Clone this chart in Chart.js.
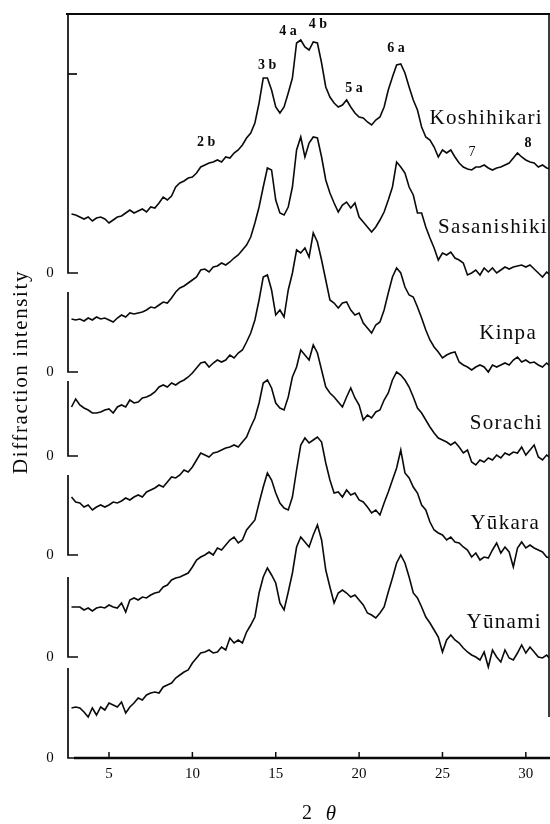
<!DOCTYPE html>
<html>
<head>
<meta charset="utf-8">
<script src="https://cdn.jsdelivr.net/npm/chart.js@4.4.0/dist/chart.umd.min.js"></script>
<style>
	body { margin: 0; background: #fff; }
	#wrap { position: relative; width: 550px; height: 824px; }
</style>
</head>
<body>
<div id="wrap"><canvas id="xrd"></canvas></div>
<script>
// 2θ sample positions (deg)
const twoTheta = [2.75,
	3, 3.25, 3.5, 3.75, 4, 4.25, 4.5, 4.75, 5, 5.25, 5.5, 5.75, 6, 6.25, 6.5, 6.75,
	7, 7.25, 7.5, 7.75, 8, 8.25, 8.5, 8.75, 9, 9.25, 9.5, 9.75, 10, 10.25, 10.5, 10.75,
	11, 11.25, 11.5, 11.75, 12, 12.25, 12.5, 12.75, 13, 13.25, 13.5, 13.75, 14, 14.25, 14.5, 14.75,
	15, 15.25, 15.5, 15.75, 16, 16.25, 16.5, 16.75, 17, 17.25, 17.5, 17.75, 18, 18.25, 18.5, 18.75,
	19, 19.25, 19.5, 19.75, 20, 20.25, 20.5, 20.75, 21, 21.25, 21.5, 21.75, 22, 22.25, 22.5, 22.75,
	23, 23.25, 23.5, 23.75, 24, 24.25, 24.5, 24.75, 25, 25.25, 25.5, 25.75, 26, 26.25, 26.5, 26.75,
	27, 27.25, 27.5, 27.75, 28, 28.25, 28.5, 28.75, 29, 29.25, 29.5, 29.75, 30, 30.25, 30.5, 30.75,
	31, 31.25, 31.5]

const varieties = ["Koshihikari", "Sasanishiki", "Kinpa", "Sorachi", "Yūkara", "Yūnami"]

// intensity above each trace's own zero line
const koshihikari = [59,
	58, 56, 54, 56, 52, 55, 56, 54, 50, 53, 56, 57, 60, 63, 60, 62,
	64, 61, 66, 65, 70, 76, 73, 77, 86, 90, 92, 95, 96, 100, 106, 108,
	110, 111, 113, 111, 116, 115, 120, 123, 128, 135, 140, 150, 170, 195, 195, 183,
	166, 160, 166, 180, 195, 230, 233, 226, 223, 231, 230, 210, 186, 176, 170, 166,
	168, 173, 166, 160, 156, 155, 151, 148, 153, 156, 166, 183, 196, 208, 209, 200,
	186, 173, 163, 146, 136, 133, 126, 116, 123, 120, 123, 116, 110, 106, 104, 103,
	106, 106, 108, 105, 103, 105, 106, 108, 110, 115, 120, 116, 113, 111, 110, 106,
	108, 105, 104]
const sasanishiki = [53,
	52, 53, 51, 54, 52, 55, 53, 54, 52, 50, 54, 57, 55, 59, 58, 59,
	60, 62, 65, 64, 67, 70, 69, 74, 80, 84, 86, 89, 92, 95, 102, 103,
	100, 105, 106, 109, 107, 110, 114, 117, 122, 127, 135, 149, 165, 185, 204, 202,
	172, 159, 157, 165, 185, 222, 235, 215, 229, 235, 234, 215, 192, 179, 169, 160,
	167, 170, 164, 169, 155, 150, 145, 140, 145, 152, 160, 172, 185, 210, 205, 199,
	185, 177, 159, 159, 145, 134, 124, 112, 119, 117, 120, 114, 112, 109, 97, 99,
	102, 97, 104, 100, 104, 99, 102, 105, 103, 105, 106, 107, 105, 107, 103, 99,
	95, 100, 97]
const kinpa = [49,
	57, 51, 48, 46, 43, 43, 44, 46, 47, 43, 49, 51, 49, 56, 53, 54,
	58, 59, 61, 64, 69, 71, 69, 73, 71, 74, 76, 79, 83, 88, 93, 94,
	89, 93, 96, 94, 96, 101, 98, 103, 106, 114, 123, 136, 156, 179, 181, 166,
	141, 146, 139, 166, 183, 206, 203, 208, 199, 223, 214, 196, 176, 156, 153, 148,
	153, 154, 146, 141, 143, 133, 128, 123, 131, 134, 146, 163, 179, 188, 183, 169,
	161, 159, 149, 138, 126, 116, 109, 104, 98, 101, 103, 104, 94, 91, 89, 86,
	89, 91, 89, 84, 91, 89, 91, 93, 91, 96, 99, 94, 96, 93, 94, 91,
	89, 93, 89]
const sorachi = [58,
	53, 52, 48, 50, 45, 48, 50, 48, 50, 53, 52, 54, 57, 55, 58, 60,
	58, 63, 65, 67, 70, 68, 73, 78, 77, 80, 85, 83, 88, 95, 102, 100,
	98, 102, 103, 105, 107, 108, 110, 108, 113, 118, 128, 137, 152, 172, 175, 167,
	152, 147, 145, 158, 178, 188, 205, 200, 195, 210, 202, 185, 168, 162, 158, 153,
	148, 158, 167, 157, 150, 135, 140, 137, 143, 145, 155, 162, 175, 183, 180, 175,
	168, 158, 147, 142, 135, 128, 122, 117, 115, 113, 110, 113, 108, 102, 105, 93,
	90, 95, 93, 97, 95, 100, 97, 102, 100, 103, 102, 108, 100, 105, 110, 98,
	95, 100, 97]
const yukara = [50,
	50, 50, 47, 49, 46, 49, 50, 49, 52, 50, 49, 54, 45, 57, 59, 57,
	60, 59, 62, 64, 65, 70, 72, 77, 79, 80, 82, 84, 90, 97, 100, 102,
	105, 102, 109, 107, 112, 117, 120, 114, 117, 127, 132, 137, 154, 170, 184, 177,
	164, 154, 149, 147, 160, 187, 212, 219, 214, 217, 220, 215, 194, 177, 164, 165,
	160, 167, 162, 164, 157, 155, 150, 144, 147, 142, 154, 165, 177, 189, 207, 184,
	179, 170, 164, 152, 147, 135, 127, 124, 122, 117, 120, 115, 114, 110, 107, 100,
	104, 97, 100, 99, 107, 114, 104, 110, 105, 90, 109, 115, 109, 112, 109, 107,
	105, 100, 99]
const yunami = [50,
	51, 50, 46, 41, 50, 43, 51, 48, 55, 53, 51, 56, 45, 51, 55, 60,
	58, 63, 65, 66, 65, 71, 73, 75, 80, 83, 86, 88, 95, 100, 105, 106,
	108, 105, 106, 111, 108, 120, 115, 118, 115, 126, 133, 141, 165, 181, 190, 183,
	175, 155, 148, 166, 185, 211, 221, 216, 211, 223, 233, 218, 188, 171, 155, 165,
	168, 165, 161, 163, 158, 153, 145, 143, 140, 145, 151, 166, 180, 195, 203, 195,
	181, 165, 160, 151, 141, 135, 128, 121, 106, 118, 123, 118, 115, 110, 106, 103,
	101, 98, 106, 91, 108, 101, 96, 108, 100, 98, 105, 113, 105, 111, 106, 101,
	100, 103, 98]

const traces = [koshihikari, sasanishiki, kinpa, sorachi, yukara, yunami]
// where each trace's zero sits on the shared intensity axis
const zeroOffsets = [485, 386, 302, 203, 101, 0]
// height of each little left axis piece (same units)
const axisSpans = [259, 80, 75, 80, 80, 90]
const xTicks = [5, 10, 15, 20, 25, 30]

// name tags: right end (deg) and height above zero
const labelAngle = [31.03, 31.33, 30.67, 31.03, 30.85, 30.97]
const labelHeight = [155, 145, 123, 132, 134, 136]

// peak assignments on the Koshihikari trace
const peakNotes = [
	{ t: "2 b", a: 10.82, v: 616 },
	{ t: "3 b", a: 14.49, v: 693 },
	{ t: "4 a", a: 15.74, v: 727 },
	{ t: "4 b", a: 17.53, v: 734 },
	{ t: "5 a", a: 19.69, v: 670 },
	{ t: "6 a", a: 22.21, v: 710 },
	{ t: "7", a: 26.77, v: 606 },
	{ t: "8", a: 30.13, v: 615 }
]

const datasets = traces.map((vals, i) => ({
	label: varieties[i],
	data: vals.map((v, k) => ({ x: twoTheta[k], y: v + zeroOffsets[i] })),
	borderColor: "#0a0a0a",
	borderWidth: 1.6,
	pointRadius: 0,
	tension: 0,
	fill: false
}))

const serif = "'Liberation Serif', 'DejaVu Serif', serif"

//axes, name tags and labels drawn through the scales
const framePlugin = {
	id: "frame",
	afterDatasetsDraw(chart) {
		const { ctx, scales: { x, y } } = chart
		const left = x.getPixelForValue(2.54)
		const top = y.getPixelForValue(744)
		const right = x.getPixelForValue(31.39)
		ctx.save()
		ctx.strokeStyle = "#0a0a0a"
		ctx.fillStyle = "#0a0a0a"
		ctx.lineCap = "butt"

		// top frame and right edge
		ctx.lineWidth = 1.8
		ctx.beginPath()
		ctx.moveTo(left - 2, top)
		ctx.lineTo(right + 1, top)
		ctx.stroke()
		ctx.lineWidth = 1.6
		ctx.beginPath()
		ctx.moveTo(right, top)
		ctx.lineTo(right, y.getPixelForValue(41))
		ctx.stroke()

		// one small left axis per trace
		ctx.font = "15px " + serif
		ctx.textAlign = "center"
		ctx.textBaseline = "middle"
		zeroOffsets.forEach((z, i) => {
			const y0 = y.getPixelForValue(z)
			const y1 = y.getPixelForValue(z + axisSpans[i])
			ctx.lineWidth = 1.7
			ctx.beginPath()
			ctx.moveTo(left, y1)
			ctx.lineTo(left, y0)
			ctx.lineTo(left + 10, y0)
			ctx.stroke()
			ctx.fillText("0", 50, y0)
		})
		// scale mark on the top trace
		const ym = y.getPixelForValue(zeroOffsets[0] + 199)
		ctx.beginPath()
		ctx.moveTo(left, ym)
		ctx.lineTo(left + 9, ym)
		ctx.stroke()

		// bottom axis
		const yb = y.getPixelForValue(0)
		ctx.lineWidth = 2.4
		ctx.beginPath()
		ctx.moveTo(x.getPixelForValue(2.9), yb)
		ctx.lineTo(right + 1, yb)
		ctx.stroke()
		ctx.lineWidth = 1.5
		ctx.font = "15px " + serif
		xTicks.forEach((t) => {
			const px = x.getPixelForValue(t)
			ctx.beginPath()
			ctx.moveTo(px, yb)
			ctx.lineTo(px, yb - 6)
			ctx.stroke()
			ctx.fillText(String(t), px, yb + 16)
		})

		// x title
		ctx.font = "20px " + serif
		ctx.fillText("2", 307, yb + 56)
		ctx.font = "italic 21px " + serif
		ctx.fillText("θ", 331, yb + 56)

		// y title
		ctx.save()
		ctx.translate(21, 372)
		ctx.rotate(-Math.PI / 2)
		ctx.font = "21px " + serif
		ctx.letterSpacing = "1.6px"
		ctx.fillText("Diffraction intensity", 0, 0)
		ctx.restore()

		// variety names
		ctx.font = "21px " + serif
		ctx.letterSpacing = "1.3px"
		ctx.textAlign = "right"
		varieties.forEach((name, i) => {
			ctx.fillText(name, x.getPixelForValue(labelAngle[i]), y.getPixelForValue(zeroOffsets[i] + labelHeight[i]))
		})

		// peak notes
		ctx.letterSpacing = "0px"
		ctx.textAlign = "center"
		peakNotes.forEach((p) => {
			ctx.font = (p.t === "7" ? "" : "bold ") + "14px " + serif
			ctx.fillText(p.t, x.getPixelForValue(p.a), y.getPixelForValue(p.v))
		})
		ctx.restore()
	}
}

new Chart(document.getElementById("xrd"), {
	type: "line",
	data: { datasets },
	options: {
		responsive: true,
		maintainAspectRatio: false,
		animation: false,
		devicePixelRatio: 1,
		layout: { padding: { left: 68, right: 1, top: 14, bottom: 66 } },
		scales: {
			x: { type: "linear", min: 2.54, max: 31.39, display: false },
			y: { type: "linear", min: 0, max: 744, display: false }
		},
		plugins: {
			legend: { display: false },
			tooltip: { enabled: false }
		}
	},
	plugins: [framePlugin]
})
</script>
</body>
</html>
